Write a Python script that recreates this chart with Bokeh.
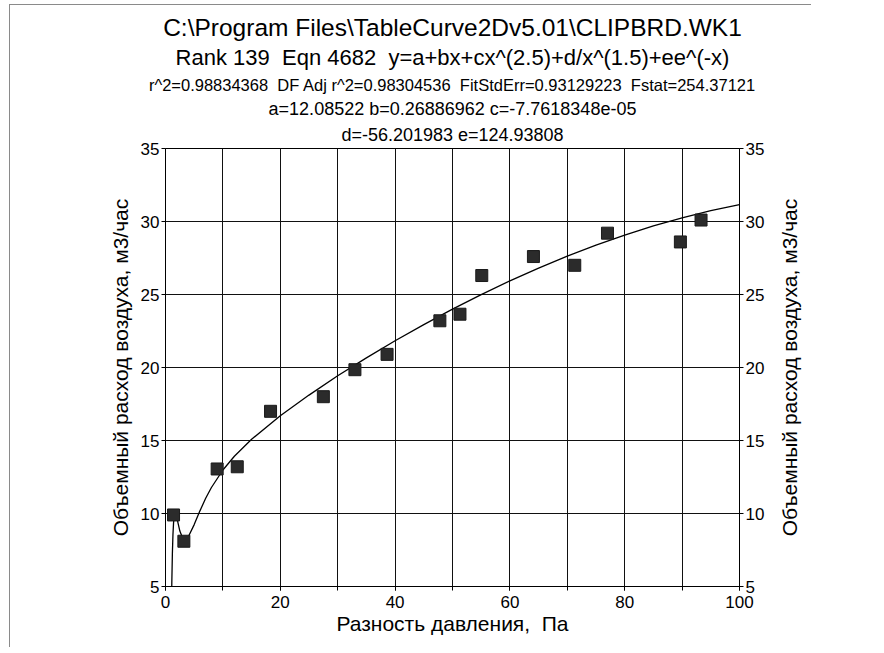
from bokeh.plotting import figure
from bokeh.layouts import row
from bokeh.models import LinearAxis, Range1d, Title, SingleIntervalTicker, FixedTicker
from bokeh.embed import file_html
from bokeh.resources import INLINE

# ---- data ----
pressure = [1.4, 3.2, 9.0, 12.5, 18.3, 27.5, 33.0, 38.6, 47.8, 51.3, 55.1, 64.1, 71.3, 77.0, 89.7, 93.3]
flow = [9.9, 8.1, 13.05, 13.2, 17.0, 18.0, 19.85, 20.9, 23.2, 23.65, 26.3, 27.6, 27.0, 29.2, 28.6, 30.1]

# fitted curve
curve_x = [1.0, 1.1, 1.2, 1.3, 1.4, 1.5, 1.6, 1.8, 2.0, 2.5, 3.0, 3.5, 4.0, 5.0, 6.0, 7.0, 8.0,
           10, 12, 15, 20, 25, 30, 35, 40, 45, 50, 55, 60, 65, 70, 75, 80, 85, 90, 95, 100]
curve_y = [2.11, 5.25, 7.28, 8.57, 9.34, 9.77, 9.97, 9.95, 9.66, 8.80, 8.30, 8.21, 8.42, 9.24, 10.18, 11.04, 11.78,
           12.98, 13.92, 15.08, 16.70, 18.11, 19.43, 20.66, 21.83, 22.94, 24.00, 24.99, 25.93, 26.81, 27.63,
           28.38, 29.07, 29.70, 30.25, 30.74, 31.15]

NB = "\u00a0"
title_lines = [
    "C:\\Program Files\\TableCurve2Dv5.01\\CLIPBRD.WK1",
    f"Rank 139 {NB}Eqn 4682 {NB}y=a+bx+cx^(2.5)+d/x^(1.5)+ee^(-x)",
    f"r^2=0.98834368 {NB}DF Adj r^2=0.98304536 {NB}FitStdErr=0.93129223 {NB}Fstat=254.37121",
    "a=12.08522 b=0.26886962 c=-7.7618348e-05",
    "d=-56.201983 e=124.93808",
]
x_label = f"Разность давления, {NB}Па"
y_label = "Объемный расход воздуха, м3/час"

FONT = "Liberation Sans"
FW, FH = 573, 437
BL, BT, BR, BB = 155, 143, 36, 62
BORDER = "1px solid #8a8a8a"

p = figure(frame_width=FW, frame_height=FH, output_backend="svg", toolbar_location=None,
           x_range=Range1d(0, 100), y_range=Range1d(5, 35),
           min_border_left=BL, min_border_top=BT, min_border_right=BR, min_border_bottom=BB,
           background_fill_color="white", border_fill_color="white")
p.styles = {"border-top": BORDER, "border-left": BORDER,
            "margin-left": "9px", "margin-top": "4px"}

p.outline_line_color = "black"
p.outline_line_width = 1

# grid
p.xgrid.ticker = SingleIntervalTicker(interval=10)
p.ygrid.ticker = SingleIntervalTicker(interval=5)
for g in (p.xgrid, p.ygrid):
    g.grid_line_color = "#111111"
    g.grid_line_width = 1

def style_axis(ax):
    ax.axis_line_color = "black"
    ax.major_tick_line_color = "black"
    ax.minor_tick_line_color = "black"
    ax.major_tick_in = 0
    ax.major_tick_out = 4
    ax.minor_tick_in = 0
    ax.minor_tick_out = 4
    ax.major_label_text_font = FONT
    ax.major_label_text_font_size = "17px"
    ax.major_label_text_color = "black"
    ax.major_label_standoff = 2
    ax.axis_label_text_font = FONT
    ax.axis_label_text_font_size = "21px"
    ax.axis_label_text_font_style = "normal"
    ax.axis_label_text_color = "black"

xa = p.xaxis[0]
xa.ticker = SingleIntervalTicker(interval=20, num_minor_ticks=2)
xa.axis_label = x_label
style_axis(xa)
xa.major_label_standoff = 5
xa.axis_label_standoff = 1

ya = p.yaxis[0]
ya.ticker = SingleIntervalTicker(interval=5, num_minor_ticks=0)
ya.axis_label = y_label
style_axis(ya)
ya.axis_label_standoff = 6

ra = LinearAxis(ticker=SingleIntervalTicker(interval=5, num_minor_ticks=0))
style_axis(ra)
p.add_layout(ra, "right")

# fitted curve and data
p.line(curve_x, curve_y, line_color="black", line_width=1.3)
p.scatter(pressure, flow, marker="square", size=12, fill_color="#2b2b2b", line_color="#1a1a1a")

# titles, nearest the frame first
sizes = ["24.5px", "22px", "16.5px", "18px", "18px"]
standoffs = [0, 4, 5, 1, 7]
for t, fs, so in reversed(list(zip(title_lines, sizes, standoffs))):
    p.add_layout(Title(text=t, align="center", text_font=FONT, text_font_size=fs,
                       text_font_style="normal", text_color="black", standoff=so), "above")

# narrow companion strip carrying the right-hand axis title (reads bottom to top)
q = figure(frame_width=1, frame_height=FH, output_backend="svg", toolbar_location=None,
           x_range=Range1d(0, 1), y_range=p.y_range, x_axis_location=None,
           min_border_left=0, min_border_top=BT, min_border_right=10, min_border_bottom=BB,
           background_fill_color="white", border_fill_color="white")
q.styles = {"border-top": BORDER, "margin-top": "4px"}
q.outline_line_color = None
q.grid.visible = False
qa = q.yaxis[0]
qa.ticker = FixedTicker(ticks=[])
qa.axis_line_color = None
qa.major_tick_line_color = None
qa.minor_tick_line_color = None
qa.major_label_text_font_size = "0px"
qa.major_label_standoff = 0
qa.major_tick_out = 0
qa.minor_tick_out = 0
qa.axis_label = y_label
qa.axis_label_standoff = 0
qa.axis_label_text_font = FONT
qa.axis_label_text_font_size = "21px"
qa.axis_label_text_font_style = "normal"
qa.axis_label_text_color = "black"
q.line([0, 0], [5, 5], line_alpha=0)

layout = row(p, q)
open("out.html", "w").write(file_html(layout, INLINE))
